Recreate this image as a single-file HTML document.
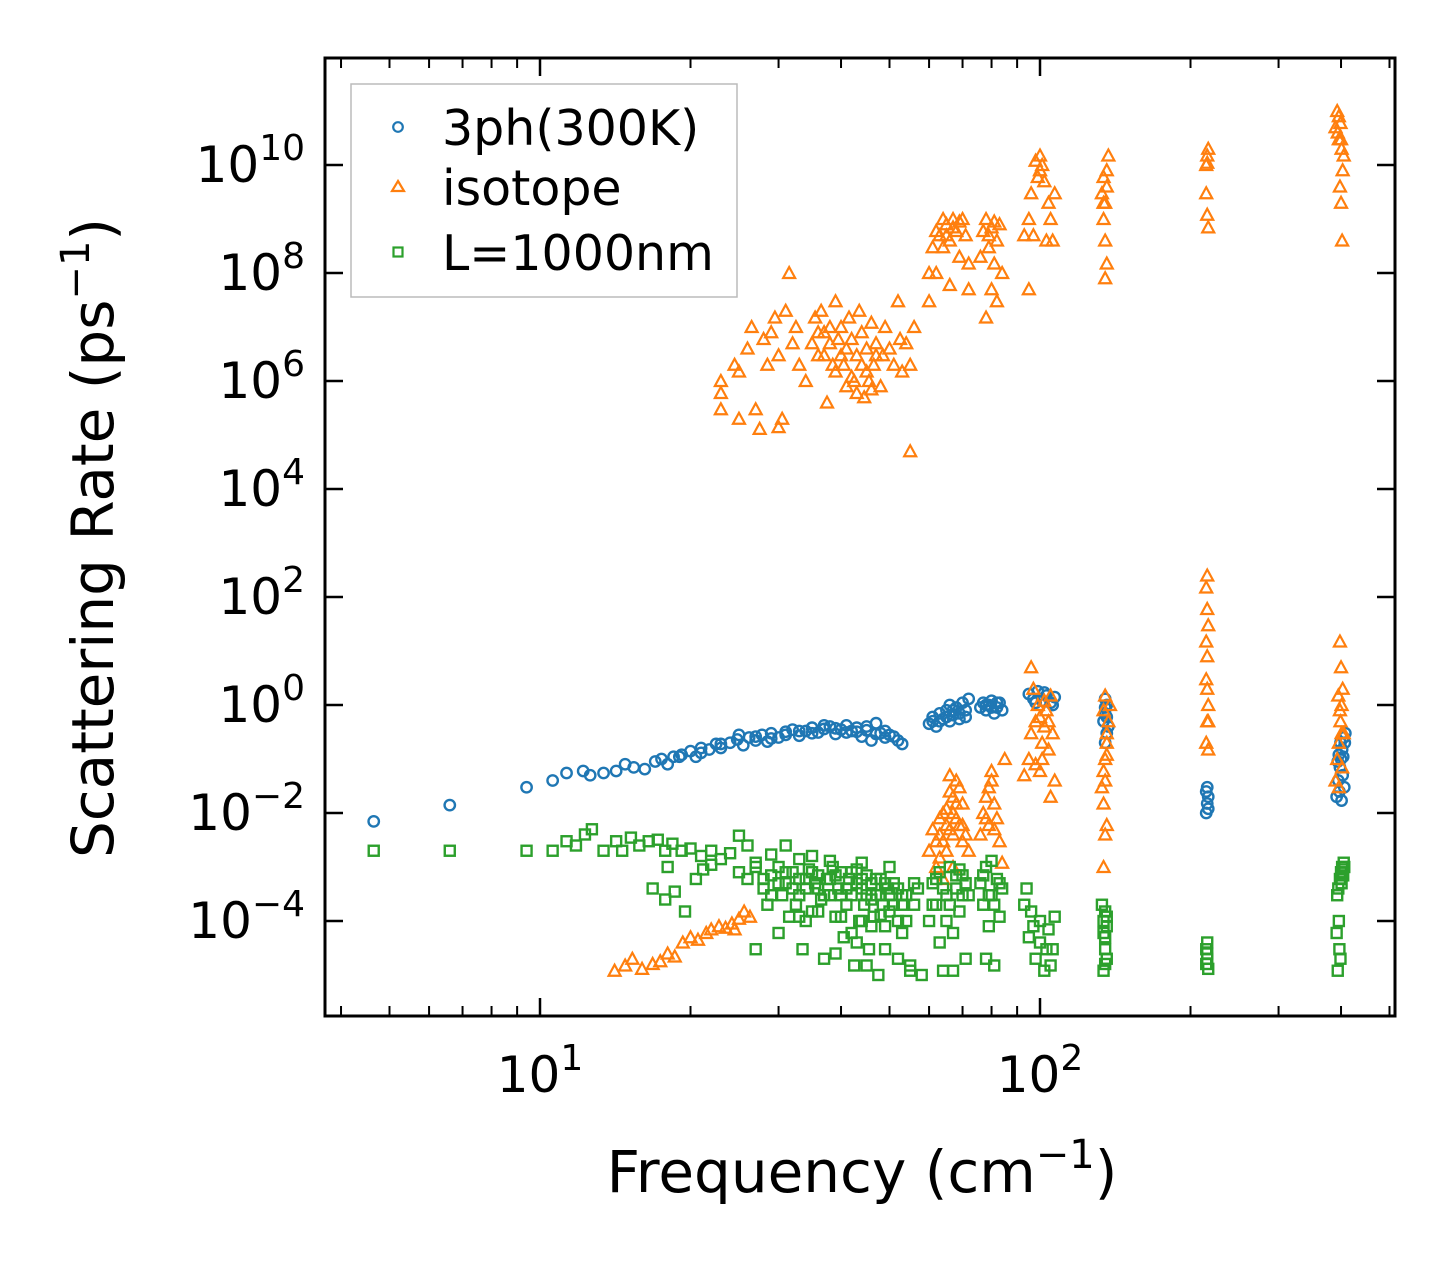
<!DOCTYPE html>
<html><head><meta charset="utf-8"><style>
body{margin:0;background:#fff;}
svg{display:block;font-family:"DejaVu Sans","Liberation Sans",sans-serif;}
</style></head><body>
<svg id="chart" width="1455" height="1265" viewBox="0 0 1455 1265" xmlns="http://www.w3.org/2000/svg">
<rect width="1455" height="1265" fill="#fff"/>
<g id="marks"></g>
<g id="axes"></g>
<text x="862" y="1192" font-size="58" text-anchor="middle">Frequency (cm<tspan dy="-24" font-size="40">−1</tspan><tspan dy="24">)</tspan></text>
<text transform="translate(113,538) rotate(-90)" font-size="58" text-anchor="middle">Scattering Rate (ps<tspan dy="-24" font-size="40">−1</tspan><tspan dy="24">)</tspan></text>
<g>
<rect x="351" y="84" width="386" height="213" fill="#fff" stroke="#bbb" stroke-width="1.5"/>
<circle cx="398" cy="127" r="4.8" fill="none" stroke="#1f77b4" stroke-width="2.2"/>
<text x="442" y="145" font-size="49">3ph(300K)</text>
<path d="M398,181 L404,191 L392,191 Z" fill="none" stroke="#ff7f0e" stroke-width="2.2"/>
<text x="442" y="205" font-size="49">isotope</text>
<rect x="393.5" y="247.5" width="9" height="9" fill="none" stroke="#2ca02c" stroke-width="2.2"/>
<text x="442" y="270" font-size="49">L=1000nm</text>
</g>
</svg>
<script>
const xTickValues=[10,100];
const xTickExponents=["1","2"];
const yTickValues=[1e-4,1e-2,1,1e2,1e4,1e6,1e8,1e10];
const yTickExponents=["−4","−2","0","2","4","6","8","10"];
const blueSeries=[[4.65,7e-3],[6.6,1.4e-2],[9.4,3e-2],[10.6,4e-2],[11.3,5.5e-2],[12.2,6e-2],[12.6,5e-2],[13.4,5.5e-2],[14.2,6e-2],[14.8,8e-2],[15.4,7e-2],[16.2,6.5e-2],[17,9e-2],[17.5,1e-1],[18,8e-2],[18.5,1.1e-1],[19.2,1.2e-1],[20,1.4e-1],[20.5,1.1e-1],[21,1.6e-1],[21.8,1.5e-1],[22.5,1.9e-1],[23,1.6e-1],[24,2e-1],[24.8,2.3e-1],[25.5,1.8e-1],[26.2,2.5e-1],[27,2.2e-1],[27.8,2.8e-1],[28.5,2.1e-1],[29,3e-1],[30,2.5e-1],[31,3.2e-1],[32,3.5e-1],[33,2.7e-1],[34,3.3e-1],[35,3.8e-1],[36,3.1e-1],[37,3.6e-1],[38,4e-1],[39,2.9e-1],[40,3.5e-1],[41,4.2e-1],[42,3.3e-1],[43,3.8e-1],[44,2.6e-1],[45,3.4e-1],[46,2.2e-1],[47,4.6e-1],[48,3e-1],[49,2.5e-1],[50,2.8e-1],[52,2.2e-1],[53,1.9e-1],
[25,2.8e-1],[27,2.6e-1],[29,2.4e-1],[31,2.8e-1],[33,3.3e-1],[35,3e-1],[37,4.2e-1],[39,3.7e-1],[41,3.1e-1],[43,3.2e-1],[45,4e-1],[47,2.9e-1],[49,3.3e-1],[51,2.6e-1],[23,1.9e-1],[21,1.3e-1],[19,1.1e-1],
[60,4.5e-1],[61,6e-1],[62,4e-1],[63,7e-1],[64,5.5e-1],[65,8e-1],[66,5e-1],[67,6.5e-1],[68,9e-1],[69,7e-1],[70,1.1],[71,8e-1],[72,1.3],[66,1],[61,5e-1],[63,5e-1],[65,6e-1],[67,8e-1],[69,5.5e-1],[71,6e-1],
[76,9e-1],[77,1.1],[78,8e-1],[79,1],[80,1.2],[81,7e-1],[82,9e-1],[83,1.1],[84,8e-1],[78,1],[80,9e-1],[82,1.1],
[95,1.6],[97,1.3],[99,1.8],[101,1.2],[103,1.5],[105,1.1],[107,1.4],[98,1.1],[102,1.7],[106,1],
[135,1.3],[135,9e-1],[136,6e-1],[137,4e-1],[135,2e-1],[136,1],[134,5e-1],[135,7e-1],[136,3e-1],
[215,1e-2],[216,1.5e-2],[217,2e-2],[216,3e-2],[215,2.5e-2],[217,1.2e-2],
[392,2e-2],[395,4e-2],[398,7e-2],[400,1e-1],[402,1.5e-1],[405,2.5e-1],[408,3e-1],[396,1.2e-1],[403,5e-2],[406,3e-2],[399,2e-1],[401,1.7e-2],[394,9e-2],[397,2.5e-2],[404,1.1e-1],[407,2e-1]];
const orangeSeries=[[23,1e6],[23,3e5],[23,6e5],[24.5,2e6],[25,1.5e6],[26,4e6],[26.5,1e7],[27,3e5],[28,6e6],[28.5,2e6],[29,8e6],[29.5,1.5e7],[30,3e6],[30.5,2e5],[31,2e7],[31.5,1e8],[32,5e6],[32.5,1e7],[33,2e6],[34,1e6],[35,5e6],[35.5,1.5e7],[36,3e6],[36.5,2e7],[37,8e6],[37.5,4e5],[38,1e7],[38.5,2e6],[39,3e7],[39.5,6e6],[40,1e7],[40.5,2e6],[41,4e6],[41.5,1.5e7],[42,6e6],[42.5,1e6],[43,3e6],[43.5,2e7],[44,8e6],[44.5,5e5],[45,4e6],[45.5,1e6],[46,1.2e7],[46.5,2e6],[47,5e6],[48,8e5],[48.5,3e6],[49,1e7],[50,4e6],[51,2e6],[52,3e7],[52.5,6e6],[53,1.5e6],[54,5e6],[55,2e6],[56,1e7],[55,5e4],[25,2e5],[27.5,1.3e5],[30,1.4e5],
[40,3e6],[41,8e5],[42,1.2e6],[43,6e5],[44,2e6],[45,1.5e6],[46,7e5],[47,3e6],[39,1.5e6],[38,5e6],[37,3e6],[36,8e6],
[60,1e8],[61,3e8],[62,1e8],[63,5e8],[64,3e8],[65,8e8],[66,4e8],[67,1e9],[68,6e8],[69,2e8],[70,1e9],[71,5e8],[72,1.5e8],[64,1e9],[66,6e7],[72,5e7],[60,3e7],[62,6e8],[65,5e8],[67,7e8],[69,9e8],
[76,2e8],[77,6e8],[78,1e9],[79,3e8],[80,7e8],[81,1.5e8],[82,4e8],[83,8e8],[84,1e8],[78,1.5e7],[80,5e7],[82,3e7],[79,5e8],[81,9e8],
[93,5e8],[95,1e9],[96,3e9],[98,1.2e10],[100,8e9],[102,5e9],[104,2e9],[105,1e9],[106,4e8],[107,3e9],[97,5e8],[100,1.5e10],[95,5e7],[103,4e8],[99,6e9],[101,1e10],
[133,3e9],[134,6e9],[135,2e9],[136,8e9],[137,1.5e10],[134,1e9],[135,4e8],[136,1.5e8],[135,8e7],[136,4e9],[134,2e9],
[215,1e10],[216,1.5e10],[217,2e10],[215,3e9],[216,1.2e9],[217,7e8],[216,1.1e10],
[390,5e10],[393,1e11],[396,3e10],[399,6e10],[401,2e10],[403,8e9],[405,1.5e10],[400,2e9],[402,4e8],[396,8e10],[398,4e9],[394,4e10],[400,3e10],
[14.1,1.2e-5],[14.8,1.5e-5],[15.3,2e-5],[16,1.3e-5],[16.8,1.6e-5],[17.4,1.8e-5],[18,2.5e-5],[18.6,2.2e-5],[19.3,4e-5],[20,5e-5],[20.7,4.5e-5],[21.5,6e-5],[22,7e-5],[22.8,8e-5],[23.5,7.5e-5],[24.2,9e-5],[25,1.1e-4],[25.6,1.5e-4],[26.3,1.2e-4],[24.5,7e-5],
[60,2e-3],[61,5e-3],[62,1e-3],[63,8e-3],[64,3e-3],[65,1.2e-2],[66,5e-3],[67,2e-2],[68,8e-3],[69,3e-2],[70,1.5e-2],[71,4e-3],[72,2e-3],[63,1.5e-3],[66,5e-2],[68,4e-2],[70,6e-3],[64,6e-4],[67,1e-3],
[62,3e-3],[63,4e-3],[64,1e-2],[65,6e-3],[66,2.5e-2],[67,1e-2],[68,1.5e-2],[69,6e-3],[70,3e-3],[65,2e-3],[67,4e-3],
[76,4e-3],[77,1e-2],[78,2e-2],[79,6e-3],[80,4e-2],[81,1.5e-2],[82,8e-3],[83,3e-3],[84,1.2e-3],[80,6e-2],[85,1e-1],[78,8e-3],[79,3e-2],[81,5e-3],
[93,5e-2],[95,1e-1],[96,3e-1],[97,2],[98,5e-1],[99,1],[100,6e-2],[101,2e-1],[102,4e-1],[103,8e-1],[104,1.5e-1],[105,1.5],[106,3e-1],[107,4e-2],[105,2e-2],[96,5],[98,8e-2],[100,6e-1],[102,1.2],[104,5e-1],[101,1e-1],
[133,3e-2],[134,6e-2],[135,1e-1],[136,2e-1],[137,5e-1],[138,1],[134,1.5e-2],[135,4e-3],[136,6e-3],[135,1.5],[136,3e-1],[134,1e-3],[135,4e-2],[136,1.2e-1],[134,8e-1],
[215,2e-1],[216,5e-1],[217,1],[215,3],[216,8],[217,30],[216,60],[215,150],[216,250],[217,1.5e-1],[216,2],[215,15],[217,5e-1],
[390,4e-2],[393,1e-1],[396,2e-1],[399,5e-1],[401,1],[403,2],[405,3e-1],[400,5],[398,15],[402,7e-2],[396,3e-2],[395,1.5],[401,3e-1],[398,8e-1]];
const greenSeries=[[4.65,2e-3],[6.6,2e-3],[9.4,2e-3],[10.6,2e-3],[11.3,3e-3],[11.8,2.5e-3],[12.3,4e-3],[12.7,5e-3],[13.4,2e-3],[14.2,3e-3],[14.6,2e-3],[15.2,3.5e-3],[15.8,2.5e-3],[16.5,3e-3],[17.2,3.2e-3],[17.8,2e-3],[18.4,2.7e-3],[19.2,2e-3],[20,2.2e-3],[21,1.6e-3],[22,2e-3],[23,1.4e-3],[24,1.8e-3],[25,3.8e-3],[26,2.5e-3],[27,1.2e-3],[16.8,4e-4],[17.8,2.5e-4],[18.6,3.5e-4],[19.5,1.5e-4],[20.5,6e-4],[21.2,9e-4],[18,1e-3],[22,1.1e-3],
[25,8e-4],[26,6e-4],[27,1e-3],[28,4e-4],[28.5,2e-4],[29,7e-4],[30,1e-3],[30.5,3e-4],[31,5e-4],[31.5,1.2e-4],[32,8e-4],[32.5,2e-4],[33,6e-4],[33.5,3e-5],[34,4e-4],[34.5,9e-4],[35,1.5e-4],[35.5,5e-4],[36,7e-4],[36.5,2.5e-4],[37,2e-5],[37.5,6e-4],[38,3e-4],[38.5,1e-3],[39,1.2e-4],[39.5,4e-4],[40,8e-4],[40.5,5e-5],[41,2e-4],[41.5,6e-4],[42,3e-4],[42.5,1.5e-5],[43,9e-4],[43.5,1e-4],[44,4e-4],[44.5,2e-4],[45,7e-4],[45.5,3e-5],[46,5e-4],[46.5,1.2e-4],[47,3e-4],[47.5,1e-5],[48,6e-4],[48.5,2e-4],[49,8e-5],[49.5,4e-4],[50,1.5e-4],[51,5e-4],[52,2e-5],[53,3e-4],[54,1e-4],[55,1.2e-5],[56,2e-4],[57,4e-4],[58,1e-5],[31,2.5e-3],[33,1.4e-3],[35,1.6e-3],[38,1.3e-3],[29,1.7e-3],[44,1.2e-3],[50,1e-3],[27,3e-5],[30,6e-5],[34,1e-4],[39,2.5e-5],[42,6e-5],[46,8e-5],[53,6e-5],[55,1.5e-5],[45,1.5e-5],
[28,6e-4],[29,3e-4],[30,5e-4],[31,8e-4],[32,4e-4],[33,3e-4],[34,6e-4],[35,8e-4],[36,4e-4],[37,3e-4],[38,6e-4],[39,7e-4],[40,3e-4],[41,4e-4],[42,8e-4],[43,5e-4],[44,6e-4],[45,3e-4],[46,2.5e-4],[47,6e-4],[48,3e-4],[49,5e-4],[50,3e-4],[51,2e-4],[52,4e-4],[54,3e-4],[56,5e-4],[36,1.5e-4],[40,1.2e-4],[44,1e-4],[48,1.3e-4],[52,1e-4],[33,1.2e-4],[43,4e-5],[49,3e-5],[53,2e-4],
[60,1e-4],[61,5e-4],[62,2e-4],[63,8e-4],[64,1.2e-5],[65,3e-4],[66,1e-3],[67,6e-5],[68,4e-4],[69,1.5e-4],[70,7e-4],[71,2e-5],[72,3e-4],[63,4e-5],[67,1.2e-5],[69,9e-4],[61,2e-4],[62,6e-4],[64,4e-4],[66,2e-4],[68,7e-4],[70,3e-4],[65,1e-4],[71,5e-4],
[76,5e-4],[77,2e-4],[78,1e-3],[79,8e-5],[80,3e-4],[81,1.5e-5],[82,6e-4],[83,1.2e-4],[84,4e-4],[78,2e-5],[80,1.3e-3],[77,7e-4],[79,3e-4],[81,2e-4],[83,5e-4],
[93,2e-4],[95,5e-5],[96,1.5e-4],[98,2e-5],[100,1e-4],[102,1.2e-5],[104,7e-5],[106,3e-5],[107,1.2e-4],[94,4e-4],[100,4e-5],[97,8e-5],[103,3e-5],[105,1.5e-5],
[133,2e-4],[134,1e-4],[135,5e-5],[136,2e-5],[134,1.2e-5],[135,1.5e-4],[136,8e-5],[135,3e-5],[134,6e-5],[136,1.2e-4],[135,1.6e-5],
[215,3e-5],[216,2e-5],[217,1.3e-5],[216,4e-5],[215,1.6e-5],[216,2.5e-5],
[392,6e-5],[395,4e-4],[398,6e-4],[400,8e-4],[402,1e-3],[405,1.2e-3],[394,1.2e-5],[397,3e-5],[401,5e-4],[404,7e-4],[406,1e-3],[396,1e-4],[393,3e-4],[399,2e-5],[403,9e-4]];

const L=325,R=1395,T=58,B=1016;
function xs(v){return 540+500*(Math.log10(v)-1);}
function ys(v){return 705-54*Math.log10(v);}
const NS="http://www.w3.org/2000/svg";
function mk(tag,attrs,parent){const e=document.createElementNS(NS,tag);for(const k in attrs)e.setAttribute(k,attrs[k]);parent.appendChild(e);return e;}
const marks=document.getElementById('marks');
const axes=document.getElementById('axes');
blueSeries.forEach(p=>{
  const c=mk('circle',{cx:xs(p[0]),cy:ys(p[1]),r:5.2,fill:'none',stroke:'#1f77b4','stroke-width':2.4},marks);
  
  
});
orangeSeries.forEach(p=>{
  const x=xs(p[0]),y=ys(p[1]);
  const t=mk('path',{d:`M${x},${y-6} L${x+6},${y+5} L${x-6},${y+5} Z`,fill:'none',stroke:'#ff7f0e','stroke-width':2.2},marks);
  
  
});
greenSeries.forEach(p=>{
  const x=xs(p[0]),y=ys(p[1]);
  const s=mk('rect',{x:x-5,y:y-5,width:10,height:10,fill:'none',stroke:'#2ca02c','stroke-width':2.4},marks);
  
  
});
for(let d=0;d<3;d++){for(let m=2;m<10;m++){const v=m*Math.pow(10,d);const x=xs(v);if(x<L||x>R)continue;
  mk('line',{x1:x,x2:x,y1:B,y2:B-10,stroke:'#000','stroke-width':2},axes);
  mk('line',{x1:x,x2:x,y1:T,y2:T+10,stroke:'#000','stroke-width':2},axes);}}
xTickValues.forEach((v,i)=>{const x=xs(v);
  mk('line',{x1:x,x2:x,y1:B,y2:B-18,stroke:'#000','stroke-width':2.5},axes);
  mk('line',{x1:x,x2:x,y1:T,y2:T+18,stroke:'#000','stroke-width':2.5},axes);
  const t=mk('text',{x:x,y:1092,'font-size':50,'text-anchor':'middle'},axes);
  
  
  t.innerHTML='10<tspan dy="-22" font-size="36">'+xTickExponents[i]+'</tspan>';
});
yTickValues.forEach((v,i)=>{const y=ys(v);
  mk('line',{x1:L,x2:L+18,y1:y,y2:y,stroke:'#000','stroke-width':2.5},axes);
  mk('line',{x1:R,x2:R-18,y1:y,y2:y,stroke:'#000','stroke-width':2.5},axes);
  const t=mk('text',{x:305,y:y+17,'font-size':50,'text-anchor':'end'},axes);
  
  
  t.innerHTML='10<tspan dy="-22" font-size="36">'+yTickExponents[i]+'</tspan>';
});
const fr=mk('rect',{x:L,y:T,width:R-L,height:B-T,fill:'none',stroke:'#000','stroke-width':3},axes);


</script>
</body></html>
